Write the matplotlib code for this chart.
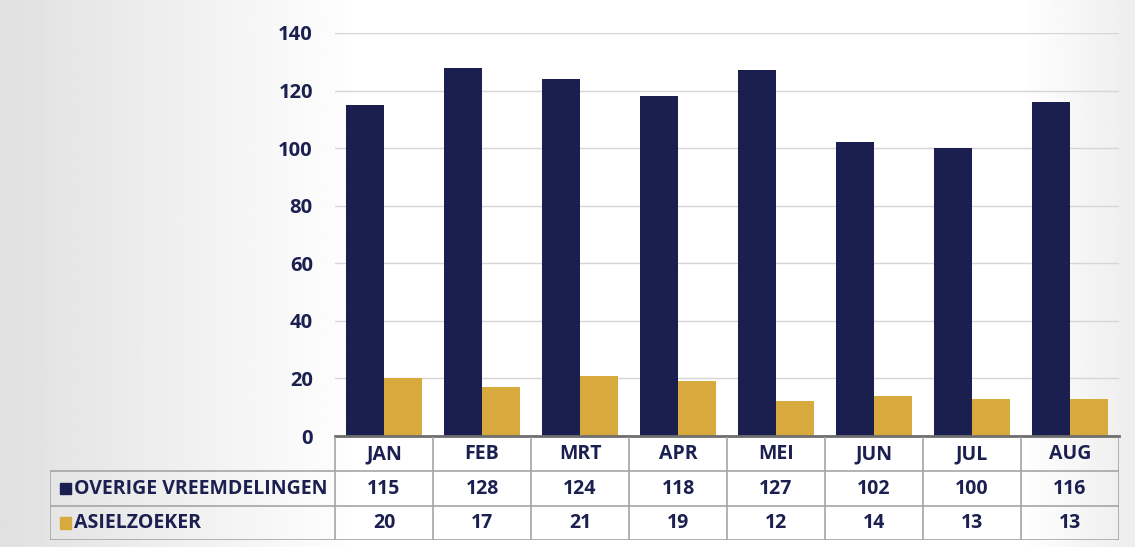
import numpy as np
import matplotlib.pyplot as plt
from matplotlib.patches import Rectangle

months = ['JAN', 'FEB', 'MRT', 'APR', 'MEI', 'JUN', 'JUL', 'AUG']
overige = [115, 128, 124, 118, 127, 102, 100, 116]
asiel = [20, 17, 21, 19, 12, 14, 13, 13]
series_names = ['OVERIGE VREEMDELINGEN', 'ASIELZOEKER']
yticks = [0, 20, 40, 60, 80, 100, 120, 140]

navy = '#1b1f4f'
gold = '#d8a93d'
text_c = '#1c2050'
font = 'Open Sans'

W, H = 1135, 547
fig = plt.figure(figsize=(W / 100, H / 100), dpi=100)

# soft grey shading towards the edges of the slide
bg = fig.add_axes([0, 0, 1, 1], zorder=-10)
xx = np.linspace(0, 1, 400)
shade = np.clip(1 - xx / 0.32, 0, 1) * 0.12 + np.clip((xx - 0.9) / 0.1, 0, 1) * 0.07
img = np.tile(1 - shade, (50, 1))
bg.imshow(img, cmap='gray', vmin=0, vmax=1, aspect='auto', extent=[0, 1, 0, 1])
bg.axis('off')


def px(x0, y0, x1, y1):
    return [x0 / W, 1 - y1 / H, (x1 - x0) / W, (y1 - y0) / H]


# bar chart
ax = fig.add_axes(px(335, 33, 1119, 436))
ax.patch.set_alpha(0)
x = np.arange(len(months))
w = 0.39
ax.bar(x - w / 2, overige, width=w, color=navy, zorder=3)
ax.bar(x + w / 2, asiel, width=w, color=gold, zorder=3)
ax.set_xlim(-0.5, len(months) - 0.5)
ax.set_ylim(0, 140)
ax.set_yticks(yticks)
ax.set_yticklabels([str(v) for v in yticks], fontsize=14.5, fontweight='bold',
                   color=text_c, family=font)
ax.tick_params(axis='y', length=0, pad=16)
ax.set_xticks([])
ax.grid(axis='y', color='#d6d6d6', linewidth=1, zorder=0)
for s in ['top', 'right', 'left']:
    ax.spines[s].set_visible(False)
ax.spines['bottom'].set_color('#6e6e6e')
ax.spines['bottom'].set_linewidth(2)
ax.spines['bottom'].set_zorder(4)

# data table under the chart
label_w = (335 - 50) / 98
tx = fig.add_axes(px(50, 437, 1119, 540))
tx.patch.set_alpha(0)
tx.set_xlim(-0.5 - label_w, len(months) - 0.5)
tx.set_ylim(3, 0)
tx.axis('off')
line_c = '#a5a5a5'
for i in range(len(months) + 1):
    tx.plot([i - 0.5, i - 0.5], [0, 3], color=line_c, lw=1.2)
tx.plot([-0.5 - label_w, -0.5 - label_w], [1, 3], color=line_c, lw=1.2)
for r in [1, 2, 3]:
    tx.plot([-0.5 - label_w, len(months) - 0.5], [r, r], color=line_c, lw=1.2)

for i, m in enumerate(months):
    tx.text(i, 0.5, m, ha='center', va='center', fontsize=14, fontweight='bold',
            color=text_c, family=font)
for r, (name, vals, c) in enumerate(zip(series_names, [overige, asiel], [navy, gold]), start=1):
    tx.add_patch(Rectangle((-0.4 - label_w, r + 0.33), 0.11, 0.34, color=c,
                           clip_on=False))
    tx.text(-0.26 - label_w, r + 0.5, name, ha='left', va='center', fontsize=14,
            fontweight='bold', color=text_c, family=font)
    for i, v in enumerate(vals):
        tx.text(i, r + 0.5, str(v), ha='center', va='center', fontsize=14,
                fontweight='bold', color=text_c, family=font)

fig.savefig('out.png', dpi=100)
